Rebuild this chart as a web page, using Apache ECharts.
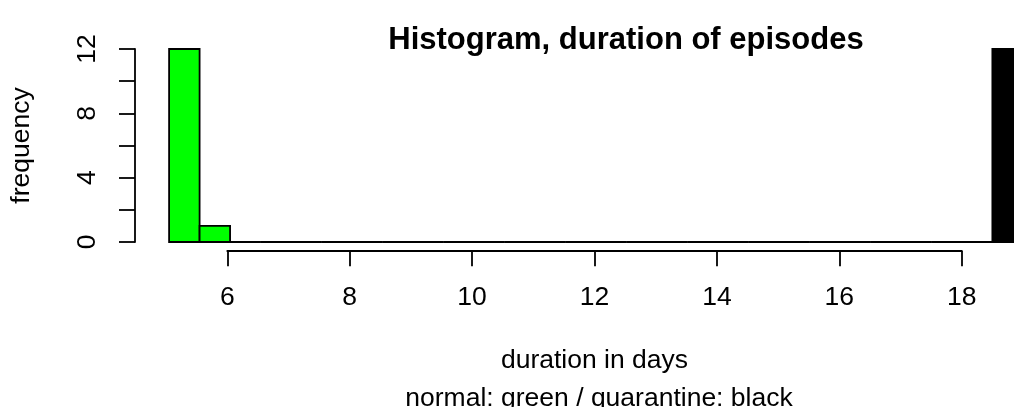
<!DOCTYPE html>
<html>
<head>
<meta charset="utf-8">
<script src="https://cdn.jsdelivr.net/npm/echarts@6/dist/echarts.min.js"></script>
<style>
html,body{margin:0;padding:0;background:#fff;overflow:hidden;}
#chart{width:1014px;height:407px;}
</style>
</head>
<body>
<div id="chart"></div>
<script>
// Histogram bins (width 0.5 day)
const binStart = [5, 5.5, 6, 6.5, 7, 7.5, 8, 8.5, 9, 9.5, 10, 10.5, 11, 11.5, 12, 12.5, 13, 13.5, 14, 14.5, 15, 15.5, 16, 16.5, 17, 17.5, 18, 18.5];
const binEnd   = [5.5, 6, 6.5, 7, 7.5, 8, 8.5, 9, 9.5, 10, 10.5, 11, 11.5, 12, 12.5, 13, 13.5, 14, 14.5, 15, 15.5, 16, 16.5, 17, 17.5, 18, 18.5, 19];
const normalCounts     = [12, 1, 0, 0, 0, 0, 0, 0, 0, 0, 0, 0, 0, 0, 0, 0, 0, 0, 0, 0, 0, 0, 0, 0, 0, 0, 0, 0];
const quarantineCounts = [0, 0, 0, 0, 0, 0, 0, 0, 0, 0, 0, 0, 0, 0, 0, 0, 0, 0, 0, 0, 0, 0, 0, 0, 0, 0, 0, 12];
const xTicks = [6, 8, 10, 12, 14, 16, 18];
const yTicks = [0, 2, 4, 6, 8, 10, 12];
const yLabelled = [0, 4, 8, 12];

const titleText = 'Histogram, duration of episodes';
const xLabel = 'duration in days';
const subText = 'normal: green / quarantine: black';
const yLabel = 'frequency';

const FONT = '"Liberation Sans", Arial, Helvetica, sans-serif';
const W = 1014;
const PX = 61.2;         // pixels per day
const LEFT5 = 166.1;     // pixel of x=5
const XMAX_VISIBLE = 5 + (W - LEFT5) / PX;  // data value at the right edge of the window

function rows(counts) {
  return binStart.map((s, i) => [s, binEnd[i], counts[i]]);
}

function histRender(fill) {
  return function (params, api) {
    const p0 = api.coord([api.value(0), 0]);
    const p1 = api.coord([api.value(1), api.value(2)]);
    return {
      type: 'rect',
      shape: { x: p0[0], y: p1[1], width: p1[0] - p0[0], height: p0[1] - p1[1] },
      style: { fill: fill, stroke: '#000', lineWidth: 1.8 }
    };
  };
}

const chart = echarts.init(document.getElementById('chart'), null, { renderer: 'canvas' });
chart.setOption({
  animation: false,
  backgroundColor: '#ffffff',
  textStyle: { fontFamily: FONT },
  title: [
    { text: titleText, left: 621, top: 20, textAlign: 'center',
      textStyle: { fontFamily: FONT, fontWeight: 'bold', fontSize: 31, color: '#000' } },
    { text: subText, left: 594, top: 380, textAlign: 'center',
      textStyle: { fontFamily: FONT, fontWeight: 'normal', fontSize: 26.5, color: '#000' } }
  ],
  grid: [
    { left: LEFT5, top: 49, right: 0, height: 193 },
    { left: LEFT5 + PX, top: 49, width: PX * 12, height: 193 }
  ],
  xAxis: [
    { gridIndex: 0, type: 'value', min: 5, max: XMAX_VISIBLE, show: false },
    { gridIndex: 1, type: 'value', min: 6, max: 18, interval: 2, offset: 8.7,
      axisLine: { show: true, onZero: false, lineStyle: { color: '#000', width: 1.8 } },
      axisTick: { show: true, length: 15.5, lineStyle: { color: '#000', width: 1.8 } },
      splitLine: { show: false },
      axisLabel: { show: true, margin: 33, fontSize: 26.5, color: '#000', fontFamily: FONT,
        formatter: v => xTicks.includes(v) ? String(v) : '' },
      name: xLabel, nameLocation: 'middle', nameGap: 96,
      nameTextStyle: { fontSize: 26.5, color: '#000', fontFamily: FONT } }
  ],
  yAxis: [
    { gridIndex: 0, type: 'value', min: 0, max: 12, interval: 2, offset: 34.1,
      axisLine: { show: true, lineStyle: { color: '#000', width: 1.8 } },
      axisTick: { show: true, length: 16, lineStyle: { color: '#000', width: 1.8 } },
      splitLine: { show: false },
      axisLabel: { show: true, rotate: 90, margin: 34, fontSize: 26.5, color: '#000', fontFamily: FONT,
        formatter: v => yLabelled.includes(v) ? String(v) : '' },
      name: yLabel, nameLocation: 'middle', nameGap: 100, nameRotate: 90,
      nameTextStyle: { fontSize: 26.5, color: '#000', fontFamily: FONT } },
    { gridIndex: 1, type: 'value', min: 0, max: 12, show: false }
  ],
  series: [
    { type: 'custom', name: 'normal', xAxisIndex: 0, yAxisIndex: 0, clip: false,
      renderItem: histRender('#00FF00'), encode: { x: [0, 1], y: 2 }, data: rows(normalCounts), z: 2 },
    { type: 'custom', name: 'quarantine', xAxisIndex: 0, yAxisIndex: 0, clip: false,
      renderItem: histRender('#000000'), encode: { x: [0, 1], y: 2 }, data: rows(quarantineCounts), z: 3 }
  ]
});
</script>
</body>
</html>
